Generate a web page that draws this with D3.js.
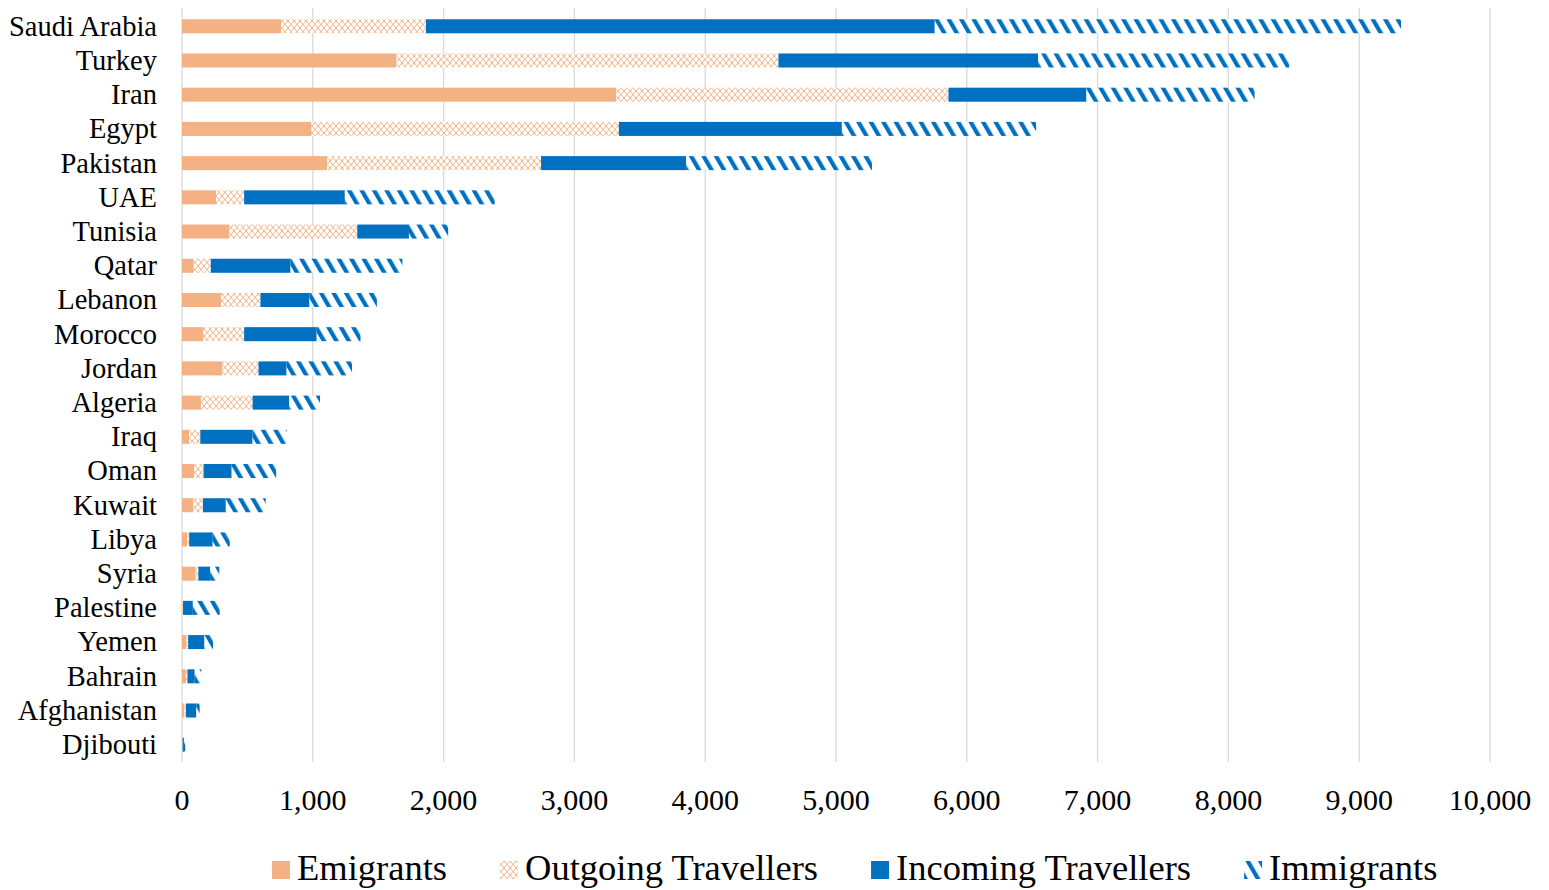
<!DOCTYPE html>
<html>
<head>
<meta charset="utf-8">
<script src="https://cdn.jsdelivr.net/npm/d3@7"></script>
<style>
  body { margin: 0; background: #fff; }
  text { font-family: "Liberation Serif", "Times New Roman", serif; fill: #000; }
</style>
</head>
<body>
<div id="chart"></div>
<script>
const countries = ['Saudi Arabia', 'Turkey', 'Iran', 'Egypt', 'Pakistan', 'UAE', 'Tunisia', 'Qatar',
  'Lebanon', 'Morocco', 'Jordan', 'Algeria', 'Iraq', 'Oman', 'Kuwait', 'Libya', 'Syria',
  'Palestine', 'Yemen', 'Bahrain', 'Afghanistan', 'Djibouti']
const emigrants = [760, 1640, 3320, 990, 1110, 260, 360, 90, 300, 165, 310, 145, 55, 95, 85, 40, 105, 5, 35, 30, 15, 3]
const outgoing  = [1105, 2920, 2540, 2350, 1635, 215, 980, 130, 300, 310, 275, 395, 85, 70, 75, 15, 20, 3, 12, 12, 15, 2]
const incoming  = [3890, 1985, 1055, 1705, 1110, 770, 395, 610, 375, 555, 215, 280, 400, 215, 175, 180, 90, 75, 125, 55, 80, 10]
const immigrants = [3565, 1920, 1285, 1485, 1420, 1145, 300, 855, 515, 335, 500, 235, 260, 340, 305, 130, 70, 205, 65, 50, 25, 10]
const seriesNames = ['Emigrants', 'Outgoing Travellers', 'Incoming Travellers', 'Immigrants']
const xTicks = [0, 1000, 2000, 3000, 4000, 5000, 6000, 7000, 8000, 9000, 10000]

const width = 1549
const height = 890
const orange = '#F4B183'
const blue = '#0070C0'

const svg = d3.select('#chart')
  .append('svg')
  .attr('width', width)
  .attr('height', height)

// patterns
const defs = svg.append('defs')
const cross = defs.append('pattern')
  .attr('id', 'cross')
  .attr('patternUnits', 'userSpaceOnUse')
  .attr('width', 6).attr('height', 7)
cross.append('rect').attr('width', 6).attr('height', 7).attr('fill', '#fff')
cross.append('path')
  .attr('d', 'M0,0 L6,7 M6,0 L0,7')
  .attr('stroke', orange).attr('stroke-width', 1).attr('fill', 'none')

const stripe = defs.append('pattern')
  .attr('id', 'stripe')
  .attr('patternUnits', 'userSpaceOnUse')
  .attr('width', 10.8).attr('height', 10.8)
  .attr('patternTransform', 'rotate(-30)')
stripe.append('rect').attr('width', 10.8).attr('height', 10.8).attr('fill', '#fff')
stripe.append('rect').attr('width', 4.2).attr('height', 10.8).attr('fill', blue)

const fills = [orange, 'url(#cross)', blue, 'url(#stripe)']

const x = d3.scaleLinear().domain([0, 10000]).range([182, 1490])
const y = d3.scaleBand().domain(countries).range([9, 762]).paddingInner(0.59).paddingOuter(0.3)

// gridlines
svg.append('g')
  .selectAll('line')
  .data(xTicks)
  .join('line')
  .attr('x1', d => x(d)).attr('x2', d => x(d))
  .attr('y1', 8).attr('y2', 762)
  .attr('stroke', '#d9d9d9').attr('stroke-width', 1.3)

// stack data
const rows = countries.map((c, i) => ({
  country: c,
  Emigrants: emigrants[i],
  'Outgoing Travellers': outgoing[i],
  'Incoming Travellers': incoming[i],
  Immigrants: immigrants[i]
}))
const stacked = d3.stack().keys(seriesNames)(rows)

svg.append('g')
  .selectAll('g')
  .data(stacked)
  .join('g')
  .attr('fill', (d, i) => fills[i])
  .selectAll('rect')
  .data(d => d)
  .join('rect')
  .attr('x', d => x(d[0]))
  .attr('width', d => x(d[1]) - x(d[0]))
  .attr('y', d => y(d.data.country))
  .attr('height', y.bandwidth())

// category labels
svg.append('g')
  .selectAll('text')
  .data(countries)
  .join('text')
  .attr('x', 157)
  .attr('y', d => y(d) + y.bandwidth() / 2)
  .attr('dy', '0.33em')
  .attr('text-anchor', 'end')
  .style('font-size', '28.5px')
  .text(d => d)

// x axis labels
svg.append('g')
  .selectAll('text')
  .data(xTicks)
  .join('text')
  .attr('x', d => x(d))
  .attr('y', 810)
  .attr('text-anchor', 'middle')
  .style('font-size', '30px')
  .text(d => d3.format(',')(d))

// legend
const legend = svg.append('g')
let lx = 272
seriesNames.forEach((name, i) => {
  legend.append('rect')
    .attr('x', lx).attr('y', 861)
    .attr('width', 18).attr('height', 18)
    .attr('fill', fills[i])
  const t = legend.append('text')
    .attr('x', lx + 25).attr('y', 880)
    .style('font-size', '36.5px')
    .text(name)
  lx += 25 + t.node().getComputedTextLength() + 53
})
</script>
</body>
</html>
